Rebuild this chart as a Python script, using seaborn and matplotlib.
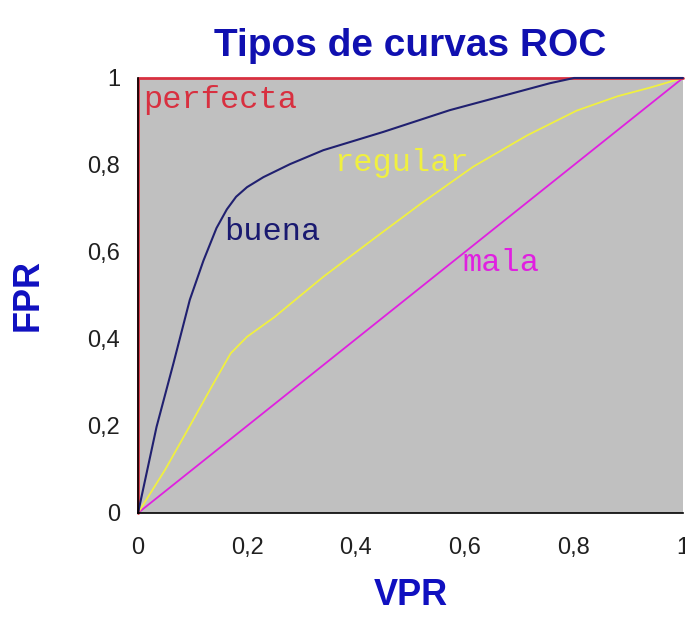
import matplotlib
matplotlib.use("Agg")
import matplotlib.pyplot as plt
import seaborn as sns

# Curvas ROC
perfecta_x = [0, 0, 1]
perfecta_y = [0, 1, 1]

buena_x = [0, 0.034, 0.065, 0.095, 0.12, 0.144, 0.163, 0.18, 0.2, 0.23, 0.279, 0.34, 0.45, 0.572, 0.664, 0.756, 0.8, 1]
buena_y = [0, 0.198, 0.344, 0.49, 0.58, 0.655, 0.698, 0.727, 0.749, 0.772, 0.802, 0.834, 0.876, 0.926, 0.957, 0.988, 1, 1]

regular_x = [0, 0.05, 0.095, 0.135, 0.17, 0.2, 0.25, 0.34, 0.43, 0.52, 0.615, 0.714, 0.805, 0.88, 0.94, 1]
regular_y = [0, 0.1, 0.2, 0.29, 0.367, 0.405, 0.45, 0.543, 0.628, 0.712, 0.796, 0.868, 0.925, 0.958, 0.978, 1]

mala_x = [0, 1]
mala_y = [0, 1]

ticks = [0, 0.2, 0.4, 0.6, 0.8, 1]
tick_labels = ["0", "0,2", "0,4", "0,6", "0,8", "1"]

sns.set_style("white")
plt.rcParams['font.family'] = ['Liberation Sans', 'DejaVu Sans']

fig = plt.figure(figsize=(6.85, 6.17), dpi=100)
ax = fig.add_axes([0.2015, 0.1686, 0.7955, 0.705])
ax.set_facecolor('#c0c0c0')

sns.lineplot(x=mala_x, y=mala_y, sort=False, estimator=None, color='#e020e0', lw=1.3, ax=ax)
sns.lineplot(x=regular_x, y=regular_y, sort=False, estimator=None, color='#f0f040', lw=1.3, ax=ax)
sns.lineplot(x=perfecta_x, y=perfecta_y, sort=False, estimator=None, color='#d83040', lw=2, ax=ax, clip_on=False)
sns.lineplot(x=buena_x, y=buena_y, sort=False, estimator=None, color='#202070', lw=1.5, ax=ax, clip_on=False)

mono = ['Liberation Mono', 'DejaVu Sans Mono']
ax.text(0.01, 0.95, "perfecta", color='#d83040', fontsize=23, family=mono, va='center')
ax.text(0.158, 0.645, "buena", color='#1a1a70', fontsize=23, family=mono, va='center')
ax.text(0.36, 0.805, "regular", color='#f0f040', fontsize=23, family=mono, va='center')
ax.text(0.595, 0.575, "mala", color='#e020e0', fontsize=23, family=mono, va='center')

ax.set_xlim(0, 1)
ax.set_ylim(0, 1)
ax.set_xticks(ticks)
ax.set_xticklabels(tick_labels)
ax.set_yticks(ticks)
ax.set_yticklabels(tick_labels)
ax.tick_params(axis='both', direction='out', length=5, width=1.2, color='black',
               labelsize=17, labelcolor='#202020')
ax.tick_params(axis='x', pad=12)
ax.tick_params(axis='y', pad=8)

for s in ['top', 'right']:
    ax.spines[s].set_visible(False)
ax.spines['left'].set_color('black')
ax.spines['bottom'].set_color('black')
ax.spines['left'].set_linewidth(1.2)
ax.spines['bottom'].set_linewidth(1.2)

ax.set_title("Tipos de curvas ROC", fontsize=28, fontweight='bold', color='#1010b0', pad=16)
ax.set_xlabel("VPR", fontsize=26, fontweight='bold', color='#1010c0', labelpad=14)
ax.set_ylabel("FPR", fontsize=26, fontweight='bold', color='#1010c0', labelpad=30)

plt.savefig("out.png", dpi=100)
